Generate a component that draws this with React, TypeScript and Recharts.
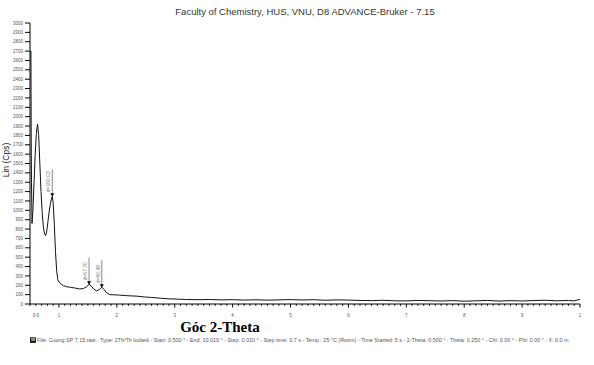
import React from 'react';
import { ComposedChart, Line, Scatter, XAxis, YAxis } from 'recharts';

// 2-Theta (deg) and intensity (Cps)
const twoTheta = [
  0.5, 0.516, 0.521, 0.526, 0.535, 0.55, 0.57, 0.59, 0.61, 0.63, 0.65, 0.67, 0.69, 0.71, 0.73, 0.75, 0.77,
  0.79, 0.81, 0.83, 0.85, 0.87, 0.885, 0.9, 0.92, 0.94, 0.96, 0.98, 1.0, 1.04, 1.08, 1.13, 1.2,
  1.28, 1.36, 1.42, 1.47, 1.52, 1.56, 1.6, 1.65, 1.7, 1.74, 1.78, 1.82, 1.88, 1.95, 2.05, 2.15,
  2.25, 2.35, 2.4, 2.5, 2.6, 2.75, 2.9, 3.05, 3.2, 3.4, 3.6, 3.8, 4.0, 4.2, 4.4, 4.6, 4.8, 5.0,
  5.2, 5.4, 5.6, 5.8, 6.0, 6.2, 6.4, 6.6, 6.8, 7.0, 7.2, 7.4, 7.6, 7.8, 8.0, 8.2, 8.4, 8.6, 8.8,
  9.0, 9.2, 9.4, 9.6, 9.8, 9.9, 10.0,
];
const counts = [
  2700, 2700, 1750, 1300, 860, 1000, 1300, 1600, 1820, 1920, 1800, 1500, 1200, 980, 830, 750, 730,
  780, 880, 980, 1060, 1120, 1150, 1080, 850, 560, 360, 260, 235, 210, 195, 185, 178,
  170, 160, 165, 180, 210, 190, 160, 140, 155, 180, 155, 120, 100, 98, 95, 90,
  86, 84, 80, 74, 70, 62, 55, 52, 48, 46, 48, 44, 46, 42, 45, 41, 44, 47,
  43, 46, 40, 44, 42, 38, 36, 40, 34, 33, 38, 35, 32, 36, 30, 34, 38, 31, 36,
  32, 37, 40, 34, 38, 33, 50,
];

// marked peaks
const peakTheta = [0.885, 1.52, 1.74];
const peakCounts = [1150, 210, 180];
const peakLabels = ['d=100.03', 'd=57.70', 'd=50.48'];

// axis ticks
const xLabelTicks = [0.6, 1, 2, 3, 4, 5, 6, 7, 8, 9, 10];
const xAllTicks = Array.from({ length: 96 }, (_, i) => Math.round((0.5 + i * 0.1) * 10) / 10);
const yTicks = Array.from({ length: 31 }, (_, i) => i * 100);

const curve = twoTheta.map((x, i) => ({ x, y: counts[i] }));
const peaks = peakTheta.map((x, i) => ({ x, y: peakCounts[i], label: peakLabels[i] }));

const FONT = '"Liberation Sans", Arial, sans-serif';

const XTick = (props: any) => {
  const { x, y, payload } = props;
  const v = payload.value;
  const major = Number.isInteger(v);
  const showLabel = xLabelTicks.includes(v);
  return (
    <g>
      <line x1={x} y1={y} x2={x} y2={y + (major ? 3.5 : 1.8)} stroke="#000" strokeWidth={1} />
      {showLabel && (
        <text x={x} y={y + 13} textAnchor="middle" fontSize={4.5} fill="#555" fontFamily={FONT}>
          {v === 10 ? '1' : String(v)}
        </text>
      )}
    </g>
  );
};

const YTick = (props: any) => {
  const { x, y, payload } = props;
  return (
    <g>
      <line x1={x - 5} y1={y} x2={x} y2={y} stroke="#000" strokeWidth={1} />
      <text x={x - 7} y={y} dy={1.6} textAnchor="end" fontSize={4.5} fill="#555" fontFamily={FONT}>
        {payload.value}
      </text>
    </g>
  );
};

const PeakMark = (props: any) => {
  const { cx, cy, payload } = props;
  if (cx == null || cy == null) return null;
  return (
    <g>
      <line x1={cx} y1={cy - 2} x2={cx} y2={cy - 27} stroke="#888" strokeWidth={1} />
      <path d={`M${cx - 2},${cy - 3} L${cx + 2},${cy - 3} L${cx},${cy + 0.5} Z`} fill="#000" />
      <text
        x={cx - 2}
        y={cy - 4}
        transform={`rotate(-90 ${cx - 2} ${cy - 4})`}
        fontSize={5}
        fill="#777"
        fontFamily={FONT}
      >
        {payload.label}
      </text>
    </g>
  );
};

export default function App() {
  return (
    <div
      style={{
        position: 'absolute',
        left: 0,
        top: 0,
        width: 594,
        height: 365,
        background: '#fff',
        overflow: 'hidden',
      }}
    >
      <div
        style={{
          position: 'absolute',
          top: 6,
          left: 0,
          width: 594,
          textAlign: 'center',
          fontFamily: FONT,
          fontSize: 9.5,
          color: '#333',
          paddingLeft: 8,
        }}
      >
        Faculty of Chemistry, HUS, VNU, D8 ADVANCE-Bruker - 7.15
      </div>
      <div
        style={{
          position: 'absolute',
          left: 6,
          top: 160,
          transform: 'translate(-50%, -50%) rotate(-90deg)',
          fontFamily: FONT,
          fontSize: 8.5,
          color: '#222',
          whiteSpace: 'nowrap',
        }}
      >
        Lin (Cps)
      </div>
      <ComposedChart
        width={594}
        height={365}
        data={curve}
        margin={{ top: 23, right: 14, left: 0, bottom: 41 }}
      >
        <XAxis
          dataKey="x"
          type="number"
          domain={[0.5, 10]}
          ticks={xAllTicks}
          interval={0}
          tick={<XTick />}
          tickLine={false}
          tickSize={0}
          tickMargin={0}
          height={20}
          axisLine={{ stroke: '#000', strokeWidth: 1 }}
          allowDataOverflow
        />
        <YAxis
          type="number"
          domain={[0, 3000]}
          ticks={yTicks}
          interval={0}
          tick={<YTick />}
          tickLine={false}
          tickSize={0}
          tickMargin={0}
          width={30}
          axisLine={{ stroke: '#000', strokeWidth: 1 }}
        />
        <Line
          type="linear"
          dataKey="y"
          stroke="#111"
          strokeWidth={1}
          dot={false}
          isAnimationActive={false}
        />
        <Scatter data={peaks} dataKey="y" shape={<PeakMark />} isAnimationActive={false} />
      </ComposedChart>
      <div
        style={{
          position: 'absolute',
          left: 0,
          top: 319,
          width: 440,
          textAlign: 'center',
          fontFamily: '"Liberation Serif", "Times New Roman", serif',
          fontWeight: 'bold',
          fontSize: 15,
          color: '#000',
        }}
      >
        Góc 2-Theta
      </div>
      <div
        style={{
          position: 'absolute',
          left: 30,
          top: 337,
          display: 'flex',
          alignItems: 'center',
          whiteSpace: 'nowrap',
          fontFamily: FONT,
          fontSize: 5.4,
          color: '#555',
        }}
      >
        <span
          style={{
            display: 'inline-block',
            width: 6,
            height: 6,
            background: '#222',
            color: '#fff',
            fontSize: 4.5,
            lineHeight: '6px',
            textAlign: 'center',
            marginRight: 1,
          }}
        >
          W
        </span>
        File: Cuong SP 7.15.raw - Type: 2Th/Th locked - Start: 0.500 ° - End: 10.010 ° - Step: 0.010 ° - Step time: 0.7 s - Temp.: 25 °C (Room) - Time Started: 5 s - 2-Theta: 0.500 ° - Theta: 0.250 ° - Chi: 0.00 ° - Phi: 0.00 ° - X: 0.0 m
      </div>
    </div>
  );
}
